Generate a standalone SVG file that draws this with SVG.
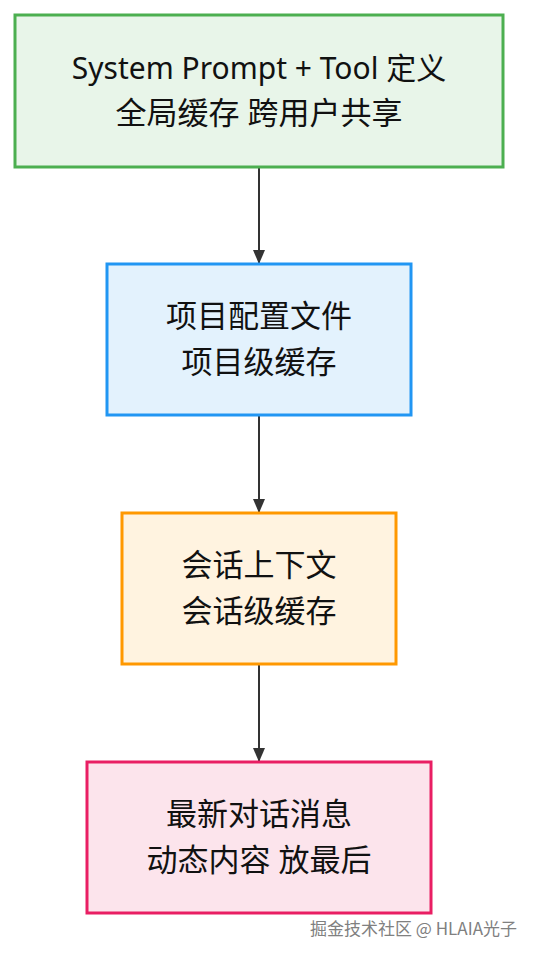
<svg xmlns="http://www.w3.org/2000/svg" width="534" height="956" viewBox="0 0 534 956">
<style>
.t{font-family:"Noto Sans","Noto Sans CJK SC",sans-serif;font-size:31px;fill:#111;text-anchor:middle}
.s{font-size:30px}
.e{stroke:#333;stroke-width:2;fill:none}
.wm{font-family:"Noto Sans CJK SC","Noto Sans",sans-serif;font-size:17px;fill:#808080;text-anchor:end}
</style>
<defs>
<marker id="ah" viewBox="0 0 14 12" refX="14" refY="6" markerWidth="14" markerHeight="12" markerUnits="userSpaceOnUse" orient="auto">
<path d="M0,0 L14,6 L0,12 Z" fill="#333"/>
</marker>
</defs>
<rect width="534" height="956" fill="#fff"/>
<g id="edges">
<line class="e" x1="259" y1="167" x2="259" y2="264" marker-end="url(#ah)"/>
<line class="e" x1="259" y1="416" x2="259" y2="513" marker-end="url(#ah)"/>
<line class="e" x1="259" y1="665" x2="259" y2="762" marker-end="url(#ah)"/>
</g>
<g id="n1">
<rect x="15" y="15" width="488" height="152" fill="#e8f5e9" stroke="#4caf50" stroke-width="3"/>
<text class="t s" x="259" y="79">System Prompt + Tool 定义</text>
<text class="t" x="259" y="124">全局缓存 跨用户共享</text>
</g>
<g id="n2">
<rect x="107" y="264" width="304" height="151" fill="#e3f2fd" stroke="#2196f3" stroke-width="3"/>
<text class="t" x="259" y="327">项目配置文件</text>
<text class="t" x="259" y="373">项目级缓存</text>
</g>
<g id="n3">
<rect x="122" y="513" width="274" height="151" fill="#fff3e0" stroke="#ff9800" stroke-width="3"/>
<text class="t" x="259" y="576">会话上下文</text>
<text class="t" x="259" y="622">会话级缓存</text>
</g>
<g id="n4">
<rect x="87" y="762" width="344" height="151" fill="#fce4ec" stroke="#e91e63" stroke-width="3"/>
<text class="t" x="259" y="825">最新对话消息</text>
<text class="t" x="259" y="871">动态内容 放最后</text>
</g>
<text class="wm" x="517" y="935">掘金技术社区 @ HLAIA光子</text>
</svg>
